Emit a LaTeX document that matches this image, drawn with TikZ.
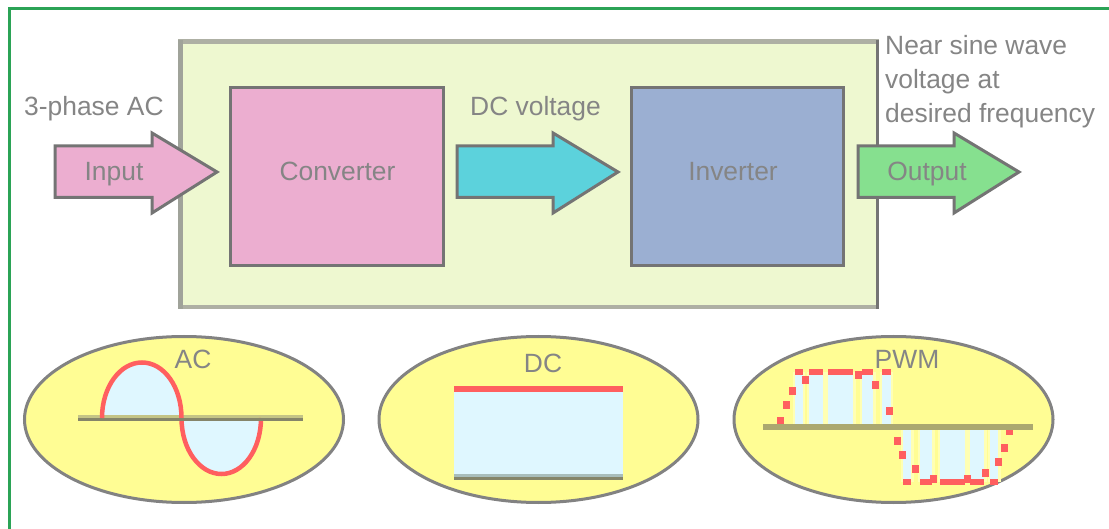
\documentclass[tikz,border=0pt]{standalone}
\usepackage{fontspec}
\setmainfont{Liberation Sans}
\definecolor{frameg}{HTML}{2BA356}
\definecolor{edgeg}{HTML}{747474}
\definecolor{outerfill}{HTML}{EEF8D0}
\definecolor{outeredge}{HTML}{AEB0A4}
\definecolor{outerside}{HTML}{A0A39A}
\definecolor{pinkf}{HTML}{ECAED0}
\definecolor{bluef}{HTML}{9BAFD2}
\definecolor{cyanf}{HTML}{5CD2DC}
\definecolor{greenf}{HTML}{86E08F}
\definecolor{yellowf}{HTML}{FFFD94}
\definecolor{halo}{HTML}{FFFFB4}
\definecolor{paleb}{HTML}{DFF7FF}
\definecolor{redl}{HTML}{FF5F5F}
\definecolor{axisc}{HTML}{85856A}
\definecolor{axisl}{HTML}{C4C486}
\definecolor{axisp}{HTML}{ABA870}
\definecolor{dcl}{HTML}{A8BDBB}
\definecolor{txt}{HTML}{858585}
\tikzset{
 x=1pt,y=-1pt,
 lab/.style={inner sep=0pt,anchor=base,text=txt,font=\fontsize{26.4}{34}\selectfont},
 labw/.style={lab,anchor=base west},
 block/.style={draw=edgeg,line width=3pt},
 arrowshape/.style={draw=edgeg,line width=3pt,line join=miter},
 oval/.style={draw=edgeg!90,line width=3pt,fill=yellowf},
 redwave/.style={draw=redl,line width=4.5pt},
}
\begin{document}
\begin{tikzpicture}
\useasboundingbox (0,0) rectangle (1109,529);
\fill[white] (0,0) rectangle (1109,529);
% frame
\draw[frameg,line width=3.2pt] (9.5,529) -- (9.5,8.5) -- (1109,8.5);
% main box
\fill[outerfill] (180,42) rectangle (877,307);
\draw[outeredge,line width=4.5pt] (178,41.5) -- (879,41.5);
\draw[outeredge,line width=4.5pt] (178,307) -- (879,307);
\draw[outerside,line width=4.5pt] (180.5,40) -- (180.5,309);
\draw[edgeg,line width=3pt] (877.5,40) -- (877.5,309);
\draw[block,fill=pinkf] (230,88) rectangle (443,265.5);
\draw[block,fill=bluef] (631,88) rectangle (843.5,265.5);
% arrows
\draw[arrowshape,fill=pinkf] (55,146) -- (152,146) -- (152,133) -- (217,172) -- (152,213) -- (152,197.5) -- (55,197.5) -- cycle;
\draw[arrowshape,fill=cyanf] (457,146) -- (553,146) -- (553,133) -- (618,172) -- (553,213) -- (553,197.5) -- (457,197.5) -- cycle;
\draw[arrowshape,fill=greenf] (858,146) -- (954,146) -- (954,133) -- (1019,172) -- (954,213) -- (954,197.5) -- (858,197.5) -- cycle;
% labels
\node[lab] (lblinput) at (114,181) {Input};
\node[lab] (lblconv) at (337.5,181) {Converter};
\node[lab] (lblinv) at (733,181) {Inverter};
\node[lab] (lbloutput) at (927,181) {Output};
\node[labw] (lblac3) at (24,116) {3-phase AC};
\node[labw] (lbldcv) at (470,116) {DC voltage};
\node[labw] (lblnear) at (885,55) {Near sine wave};
\node[labw] (lblvolt) at (885,89) {voltage at};
\node[labw] (lbldes) at (885,123) {desired frequency};
% ovals
\draw[oval] (184,419.5) ellipse [x radius=159.5,y radius=83];
\draw[oval] (538.5,419.5) ellipse [x radius=159.5,y radius=83];
\draw[oval] (893.5,419.5) ellipse [x radius=159.5,y radius=83];
\node[lab] (lblac) at (193,369) {AC};
\node[lab] (lbldc) at (543,373) {DC};
\node[lab] (lblpwm) at (907,369) {PWM};
% AC wave
\fill[paleb] (102,418) .. controls (102,387) and (120,362.5) .. (142,362.5) .. controls (164,362.5) and (181.5,387) .. (181.5,418) -- cycle;
\fill[paleb] (181.5,420) .. controls (181.5,450) and (200,474) .. (221.5,474) .. controls (243,474) and (261,450) .. (261,420) -- cycle;
\draw[axisl,line width=3pt] (78,416.5) -- (303,416.5);
\draw[axisc,line width=3pt] (78,419.5) -- (303,419.5);
\draw[redwave] (102,418) .. controls (102,387) and (120,362.5) .. (142,362.5) .. controls (164,362.5) and (181.5,387) .. (181.5,418) .. controls (181.5,450) and (200,474) .. (221.5,474) .. controls (243,474) and (261,450) .. (261,418);
\draw[axisc,line width=3pt] (178,419.5) -- (265,419.5);
% DC
\fill[paleb] (454,388) rectangle (623,478);
\fill[dcl] (454,474) rectangle (623,477);
\fill[axisc] (454,477) rectangle (623,480);
\fill[redl] (454,386) rectangle (623,392);
% PWM
\foreach \xa/\xb in {795/802.5,809/823,828/853,862/873,882/890.5}{
  \fill[halo] (\xa-2.5,372) rectangle (\xb+2.5,427);
  \fill[paleb] (\xa,372) rectangle (\xb,427);
  \fill[redl] (\xa,369) rectangle (\xb,375);
}
\foreach \xa/\xb in {903/911,920/932,940/965,970/984,990/998}{
  \fill[halo] (\xa-2.5,427) rectangle (\xb+2.5,482);
  \fill[paleb] (\xa,427) rectangle (\xb,482);
  \fill[redl] (\xa,479) rectangle (\xb,485);
}
\foreach \dx/\dy in {780/421,786/405,792/391,805/380,858/375,875/385,889/411,897/441,902/455,915/469,933/479,967/479,985/473,1004/448,1009/431,998/462}
  \fill[redl] (\dx-3.5,\dy-4) rectangle (\dx+3.5,\dy+4);
\draw[draw=axisp,line width=6pt] (763,427) -- (1033,427);
\end{tikzpicture}
\end{document}
